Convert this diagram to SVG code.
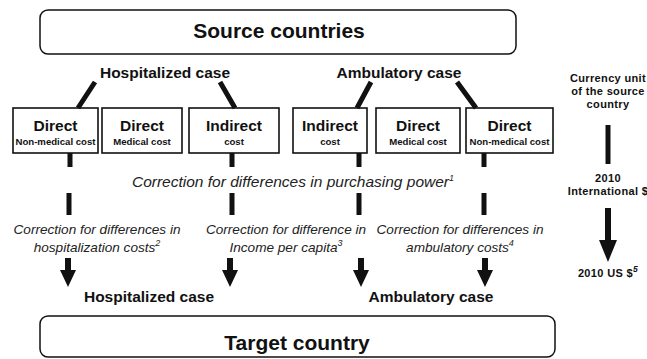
<svg xmlns="http://www.w3.org/2000/svg" width="647" height="359" viewBox="0 0 647 359">
<style>
text{font-family:"Liberation Sans",Arial,sans-serif;fill:#111;text-anchor:middle}
.big{font-size:21px;font-weight:bold}
.case{font-size:15.5px;font-weight:bold}
.bt{font-size:15.5px;font-weight:bold}
.bs{font-size:9.6px;font-weight:bold}
.it{font-size:13.6px;font-style:italic;fill:#222}
.itl{font-size:15.5px;font-style:italic;fill:#222}
.rt{font-size:11px;font-weight:bold;letter-spacing:0.35px}
.frame{fill:#fff;stroke:#111;stroke-width:1.5}
.box{fill:#fff;stroke:#111;stroke-width:1.6}
.thick{stroke:#111;stroke-width:5;fill:none}
.shaft{stroke:#111;stroke-width:6;fill:none}
.head{fill:#111}
</style>
<g id="source">
<rect class="frame" x="40" y="10" width="476" height="44" rx="8"/>
<text class="big" x="279" y="38">Source countries</text>
</g>
<g id="hosp-top"><text class="case" x="165" y="78">Hospitalized case</text></g>
<g id="amb-top"><text class="case" x="399" y="78">Ambulatory case</text></g>
<g id="box1"><rect class="box" x="13" y="108" width="85" height="45"/><text class="bt" x="55.5" y="131">Direct</text><text class="bs" x="55.5" y="144.5">Non-medical cost</text></g>
<g id="box2"><rect class="box" x="102" y="108" width="80" height="45"/><text class="bt" x="142" y="131">Direct</text><text class="bs" x="142" y="144.5">Medical cost</text></g>
<g id="box3"><rect class="box" x="189" y="108" width="90" height="45"/><text class="bt" x="234" y="131">Indirect</text><text class="bs" x="234" y="144.5">cost</text></g>
<g id="box4"><rect class="box" x="293" y="108" width="74" height="45"/><text class="bt" x="330" y="131">Indirect</text><text class="bs" x="330" y="144.5">cost</text></g>
<g id="box5"><rect class="box" x="376" y="108" width="84" height="45"/><text class="bt" x="418" y="131">Direct</text><text class="bs" x="418" y="144.5">Medical cost</text></g>
<g id="box6"><rect class="box" x="466" y="108" width="87" height="45"/><text class="bt" x="509.5" y="131">Direct</text><text class="bs" x="509.5" y="144.5">Non-medical cost</text></g>
<g id="ppp"><text class="itl" x="293" y="187">Correction for differences in purchasing power<tspan font-size="9" dy="-6">1</tspan></text></g>
<g id="corr-hosp"><text class="it" x="97" y="234">Correction for differences in</text><text class="it" x="97" y="252">hospitalization costs<tspan font-size="9" dy="-6">2</tspan></text></g>
<g id="corr-income"><text class="it" x="286" y="234">Correction for difference in</text><text class="it" x="286" y="252">Income per capita<tspan font-size="9" dy="-6">3</tspan></text></g>
<g id="corr-amb"><text class="it" x="460" y="234">Correction for differences in</text><text class="it" x="460" y="252">ambulatory costs<tspan font-size="9" dy="-6">4</tspan></text></g>
<g id="hosp-bottom"><text class="case" x="149" y="302">Hospitalized case</text></g>
<g id="amb-bottom"><text class="case" x="431" y="302">Ambulatory case</text></g>
<g id="target">
<rect class="frame" x="40" y="316" width="515" height="41" rx="8"/>
<text class="big" x="297" y="350">Target country</text>
</g>
<g id="currency"><text class="rt" x="608" y="82">Currency unit</text><text class="rt" x="608" y="94.8">of the source</text><text class="rt" x="608" y="107.6">country</text></g>
<g id="intl"><text class="rt" x="608" y="182.2">2010</text><text class="rt" x="608" y="195">International $</text></g>
<g id="usd"><text class="rt" x="608" y="277">2010 US $<tspan font-size="8.5" font-style="italic" dy="-5">5</tspan></text></g>
<g id="connectors">
<path class="thick" d="M95 82L78 108M220 82L235 108M371 82L357 108M457 82L476 108"/>
<path class="thick" d="M70 153V167M232 153V167M359 153V167M484 153V167"/>
<path class="thick" d="M69 193V215M232 193V215M359 193V215M484 193V215"/>
<path class="shaft" d="M68 258V271M230 258V271M361 258V271M485 258V271"/>
<path class="head" d="M60 270H76L68 287ZM222 270H238L230 287ZM353 270H369L361 287ZM477 270H493L485 287Z"/>
<path class="thick" d="M608 125V164"/>
<path class="shaft" d="M608 208V241"/>
<path class="head" d="M599 240H617L608 262Z"/>
</g>
</svg>
